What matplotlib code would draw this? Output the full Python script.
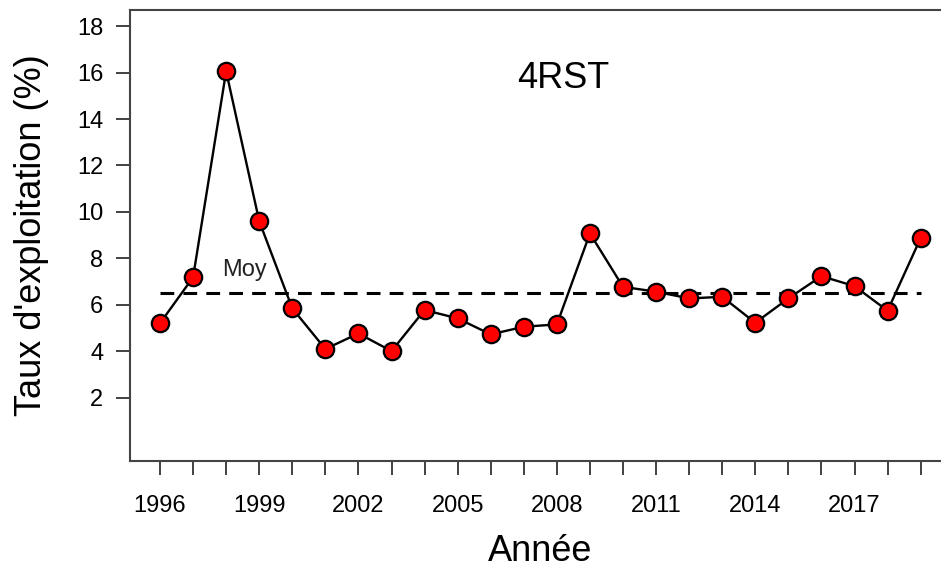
import matplotlib
matplotlib.use('Agg')
import matplotlib.pyplot as plt

plt.rcParams['font.family'] = ['Liberation Sans', 'DejaVu Sans']

# Taux d'exploitation par année, 4RST
years = list(range(1996, 2020))
taux = [5.2, 7.18, 16.06, 9.6, 5.84, 4.09, 4.76, 4.0, 5.77, 5.41, 4.72, 5.05,
        5.15, 9.07, 6.77, 6.56, 6.27, 6.34, 5.22, 6.27, 7.23, 6.8, 5.74, 8.87]
moyenne = 6.49
year_labels = [str(y) for y in range(1996, 2020, 3)]
y_ticks = [2, 4, 6, 8, 10, 12, 14, 16, 18]

fig = plt.figure(figsize=(9.41, 5.71), dpi=100)
ax = fig.add_axes([0.1377, 0.1933, 0.873, 0.790])

# mean line
ax.plot([years[0], years[-1]], [moyenne, moyenne], color='black',
        linewidth=2.2, linestyle=(0, (4.5, 3)), zorder=1)
ax.text(1998.55, 7.5, 'Moy', fontsize=17, ha='center', va='center', color='#222222')

# series
ax.plot(years, taux, color='black', linewidth=1.7, zorder=2)
ax.plot(years, taux, linestyle='none', marker='o', markersize=12.5,
        markerfacecolor='#ff0000', markeredgecolor='black', markeredgewidth=1.6, zorder=3)

ax.text(2008.2, 15.75, '4RST', fontsize=26, ha='center', va='center')

ax.set_xlim(1995.08, 2019.92)
ax.set_ylim(-0.72, 18.72)
ax.set_xticks(years)
ax.set_xticklabels([str(y) if str(y) in year_labels else '' for y in years])
ax.set_yticks(y_ticks)

ax.tick_params(axis='both', labelsize=17, length=10, width=1.3, color='#333333')
ax.tick_params(axis='x', pad=15)
ax.tick_params(axis='y', pad=9)
for s in ax.spines.values():
    s.set_color('#444444')
    s.set_linewidth(1.5)

ax.set_ylabel("Taux d'exploitation (%)", fontsize=26, labelpad=20)
ax.set_xlabel('Année', fontsize=26, labelpad=12)

fig.savefig('out.png', dpi=100)
